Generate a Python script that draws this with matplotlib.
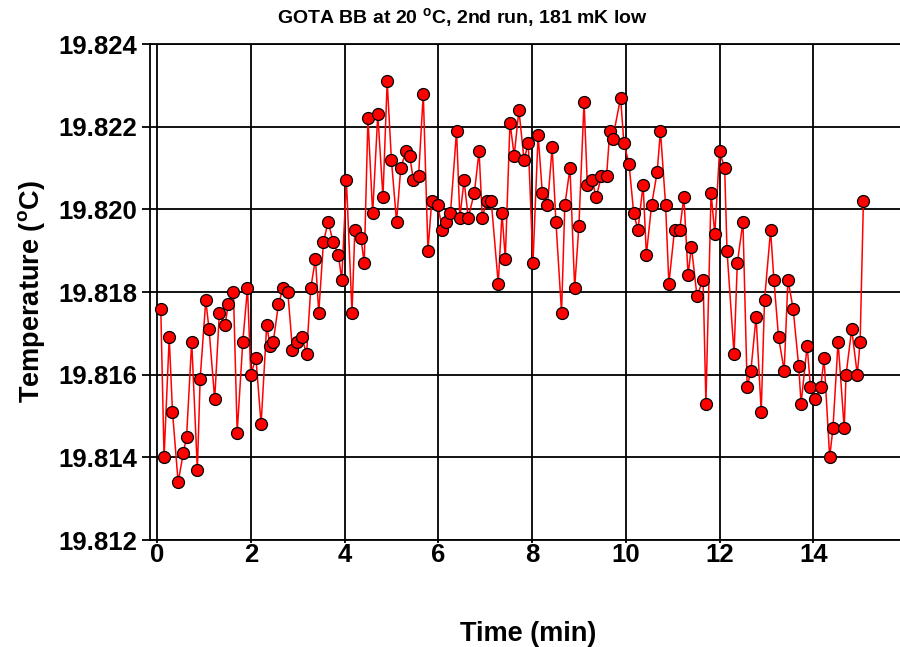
import matplotlib
matplotlib.use("Agg")
import matplotlib.pyplot as plt
from matplotlib.ticker import FormatStrFormatter

plt.rcParams["font.family"] = ["Liberation Sans", "DejaVu Sans"]
plt.rcParams["mathtext.fontset"] = "custom"
plt.rcParams["mathtext.rm"] = "Liberation Sans:bold"
plt.rcParams["mathtext.bf"] = "Liberation Sans:bold"

# values
time_min = [
    0.08, 0.15, 0.26, 0.33, 0.45, 0.56, 0.63, 0.74, 0.86, 0.92,
    1.04, 1.11, 1.23, 1.33, 1.45, 1.52, 1.63, 1.71, 1.83, 1.93,
    2.00, 2.11, 2.22, 2.34, 2.41, 2.48, 2.59, 2.69, 2.79, 2.89,
    2.98, 3.09, 3.19, 3.28, 3.38, 3.45, 3.55, 3.65, 3.76, 3.87,
    3.94, 4.04, 4.16, 4.22, 4.35, 4.42, 4.50, 4.60, 4.71, 4.82,
    4.91, 5.00, 5.11, 5.20, 5.31, 5.39, 5.47, 5.58, 5.68, 5.78,
    5.86, 5.99, 6.09, 6.16, 6.26, 6.39, 6.46, 6.55, 6.64, 6.77,
    6.87, 6.94, 7.03, 7.13, 7.28, 7.36, 7.43, 7.53, 7.62, 7.72,
    7.83, 7.92, 8.02, 8.13, 8.22, 8.33, 8.43, 8.51, 8.63, 8.70,
    8.81, 8.91, 9.00, 9.11, 9.18, 9.28, 9.37, 9.48, 9.59, 9.66,
    9.72, 9.89, 9.96, 10.07, 10.17, 10.26, 10.37, 10.44, 10.55, 10.67,
    10.74, 10.85, 10.92, 11.04, 11.15, 11.24, 11.33, 11.40, 11.52, 11.65,
    11.71, 11.82, 11.90, 12.00, 12.11, 12.16, 12.31, 12.38, 12.50, 12.59,
    12.67, 12.78, 12.89, 12.96, 13.09, 13.16, 13.26, 13.38, 13.46, 13.57,
    13.69, 13.74, 13.87, 13.94, 14.04, 14.16, 14.23, 14.35, 14.42, 14.53,
    14.66, 14.70, 14.82, 14.94, 15.00, 15.07,
]
temperature = [
    19.8176, 19.8140, 19.8169, 19.8151, 19.8134, 19.8141, 19.8145, 19.8168, 19.8137, 19.8159,
    19.8178, 19.8171, 19.8154, 19.8175, 19.8172, 19.8177, 19.8180, 19.8146, 19.8168, 19.8181,
    19.8160, 19.8164, 19.8148, 19.8172, 19.8167, 19.8168, 19.8177, 19.8181, 19.8180, 19.8166,
    19.8168, 19.8169, 19.8165, 19.8181, 19.8188, 19.8175, 19.8192, 19.8197, 19.8192, 19.8189,
    19.8183, 19.8207, 19.8175, 19.8195, 19.8193, 19.8187, 19.8222, 19.8199, 19.8223, 19.8203,
    19.8231, 19.8212, 19.8197, 19.8210, 19.8214, 19.8213, 19.8207, 19.8208, 19.8228, 19.8190,
    19.8202, 19.8201, 19.8195, 19.8197, 19.8199, 19.8219, 19.8198, 19.8207, 19.8198, 19.8204,
    19.8214, 19.8198, 19.8202, 19.8202, 19.8182, 19.8199, 19.8188, 19.8221, 19.8213, 19.8224,
    19.8212, 19.8216, 19.8187, 19.8218, 19.8204, 19.8201, 19.8215, 19.8197, 19.8175, 19.8201,
    19.8210, 19.8181, 19.8196, 19.8226, 19.8206, 19.8207, 19.8203, 19.8208, 19.8208, 19.8219,
    19.8217, 19.8227, 19.8216, 19.8211, 19.8199, 19.8195, 19.8206, 19.8189, 19.8201, 19.8209,
    19.8219, 19.8201, 19.8182, 19.8195, 19.8195, 19.8203, 19.8184, 19.8191, 19.8179, 19.8183,
    19.8153, 19.8204, 19.8194, 19.8214, 19.8210, 19.8190, 19.8165, 19.8187, 19.8197, 19.8157,
    19.8161, 19.8174, 19.8151, 19.8178, 19.8195, 19.8183, 19.8169, 19.8161, 19.8183, 19.8176,
    19.8162, 19.8153, 19.8167, 19.8157, 19.8154, 19.8157, 19.8164, 19.8140, 19.8147, 19.8168,
    19.8147, 19.8160, 19.8171, 19.8160, 19.8168, 19.8202,
]

x_ticks = [0, 2, 4, 6, 8, 10, 12, 14]
y_ticks = [19.812, 19.814, 19.816, 19.818, 19.820, 19.822, 19.824]

fig = plt.figure(figsize=(9, 6.47), dpi=100)
ax = fig.add_axes([150 / 900, 107 / 647, 757 / 900, 496 / 647])

ax.plot(time_min, temperature, color="red", lw=1.1, marker="o", ms=8.6,
        mfc="red", mec="black", mew=0.9, zorder=3)

ax.set_xlim(-0.15, 16)
ax.set_ylim(19.812, 19.824)
ax.set_xticks(x_ticks)
ax.set_yticks(y_ticks)
ax.yaxis.set_major_formatter(FormatStrFormatter("%.3f"))
ax.grid(True, color="black", lw=1.3)
ax.axvline(16, color="black", lw=1.3)

for side in ["left", "bottom", "top", "right"]:
    ax.spines[side].set_linewidth(1.3)

ax.tick_params(axis="both", direction="out", width=1.3, labelsize=18.5)
ax.tick_params(axis="y", length=6, pad=3)
ax.tick_params(axis="x", length=2, pad=0)
for lab in ax.get_xticklabels() + ax.get_yticklabels():
    lab.set_fontweight("bold")

ax.set_xlabel("Time (min)", fontsize=19.5, fontweight="bold", labelpad=39)
ax.set_ylabel(r"Temperature ($^{\rm o}$C)", fontsize=19.5, fontweight="bold", labelpad=8)

fig.text(462 / 900, 1 - 18 / 647, r"GOTA BB at 20 $^{\rm o}$C, 2nd run, 181 mK low",
         ha="center", va="center", fontsize=14, fontweight="bold")

fig.savefig("out.png", dpi=100)
